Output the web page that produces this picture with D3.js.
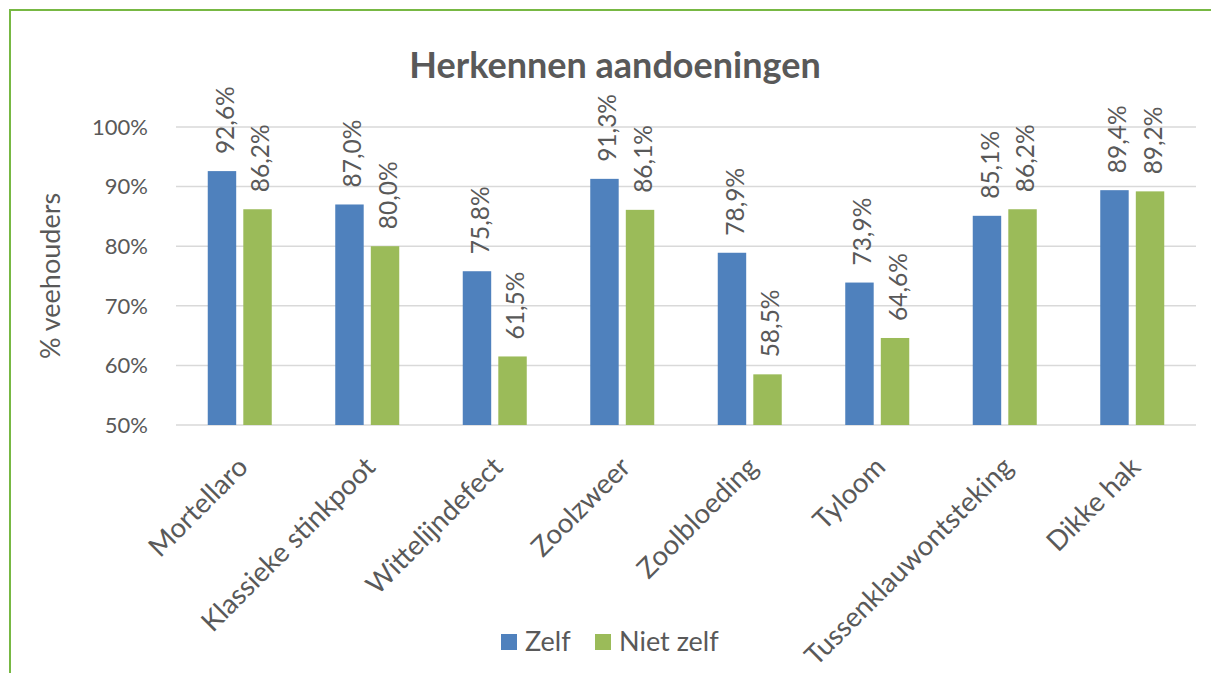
<!DOCTYPE html>
<html>
<head>
<meta charset="utf-8">
<script src="https://cdn.jsdelivr.net/npm/d3@7"></script>
<style>
  body { margin: 0; background: #fff; }
  svg text { font-family: Lato, "Open Sans", sans-serif; fill: #595959; }
</style>
</head>
<body>
<svg id="chart" width="1211" height="673"></svg>
<script>
const categories = ['Mortellaro', 'Klassieke stinkpoot', 'Wittelijndefect', 'Zoolzweer',
  'Zoolbloeding', 'Tyloom', 'Tussenklauwontsteking', 'Dikke hak']
const zelf = [92.6, 87.0, 75.8, 91.3, 78.9, 73.9, 85.1, 89.4]
const nietZelf = [86.2, 80.0, 61.5, 86.1, 58.5, 64.6, 86.2, 89.2]
const yTicks = [50, 60, 70, 80, 90, 100]
const seriesNames = ['Zelf', 'Niet zelf']
const colors = ['#4f81bd', '#9bbb59']

const svg = d3.select('#chart')
const fmt = v => v.toFixed(1).replace('.', ',') + '%'

// chart border (green frame)
svg.append('rect')
  .attr('x', 10).attr('y', 10).attr('width', 1240).attr('height', 700)
  .attr('fill', 'none').attr('stroke', '#77b843').attr('stroke-width', 2)

const plotLeft = 176, plotRight = 1196, plotTop = 127, plotBottom = 425

const x = d3.scaleBand().domain(categories).range([plotLeft, plotRight])
const y = d3.scaleLinear().domain([50, 100]).range([plotBottom, plotTop])
const inner = d3.scaleBand().domain(seriesNames).range([0, 64]).paddingInner(0.2)

// gridlines
svg.append('g').selectAll('line').data(yTicks).join('line')
  .attr('x1', plotLeft).attr('x2', plotRight)
  .attr('y1', d => y(d)).attr('y2', d => y(d))
  .attr('stroke', '#d9d9d9').attr('stroke-width', 1.5)

// y tick labels
svg.append('g').selectAll('text').data(yTicks).join('text')
  .attr('x', 148).attr('y', d => y(d)).attr('dy', '0.35em')
  .attr('text-anchor', 'end').attr('font-size', 22)
  .text(d => d + '%')

// y axis title
svg.append('text')
  .attr('transform', 'translate(60,276) rotate(-90)')
  .attr('text-anchor', 'middle').attr('font-size', 27)
  .text('% veehouders')

// title
svg.append('text')
  .attr('x', 615).attr('y', 78)
  .attr('text-anchor', 'middle').attr('font-size', 36).attr('font-weight', 'bold')
  .text('Herkennen aandoeningen')

const series = [zelf, nietZelf]
series.forEach((vals, si) => {
  const g = svg.append('g')
  const off = x.bandwidth() / 2 - 32 + inner(seriesNames[si])
  g.selectAll('rect').data(vals).join('rect')
    .attr('x', (d, i) => x(categories[i]) + off)
    .attr('y', d => y(d))
    .attr('width', inner.bandwidth())
    .attr('height', d => plotBottom - y(d))
    .attr('fill', colors[si])

  g.selectAll('text').data(vals).join('text')
    .attr('transform', (d, i) => {
      const cx = x(categories[i]) + off + inner.bandwidth() / 2 + 3
      return `translate(${cx},${y(d) - 17}) rotate(-90)`
    })
    .attr('dy', '0.35em').attr('font-size', 24.5)
    .text(d => fmt(d))
})

// category labels
svg.append('g').selectAll('text').data(categories).join('text')
  .attr('transform', d => `translate(${x(d) + x.bandwidth() / 2 + 3},${plotBottom + 37}) rotate(-45)`)
  .attr('text-anchor', 'end').attr('dy', '0.35em').attr('font-size', 27.5)
  .text(d => d)

// legend
const legend = svg.append('g')
const legX = [501, 595]
seriesNames.forEach((name, i) => {
  legend.append('rect')
    .attr('x', legX[i]).attr('y', 634).attr('width', 16).attr('height', 16)
    .attr('fill', colors[i])
  legend.append('text')
    .attr('x', legX[i] + 24).attr('y', 651).attr('font-size', 27)
    .text(name)
})
</script>
</body>
</html>
